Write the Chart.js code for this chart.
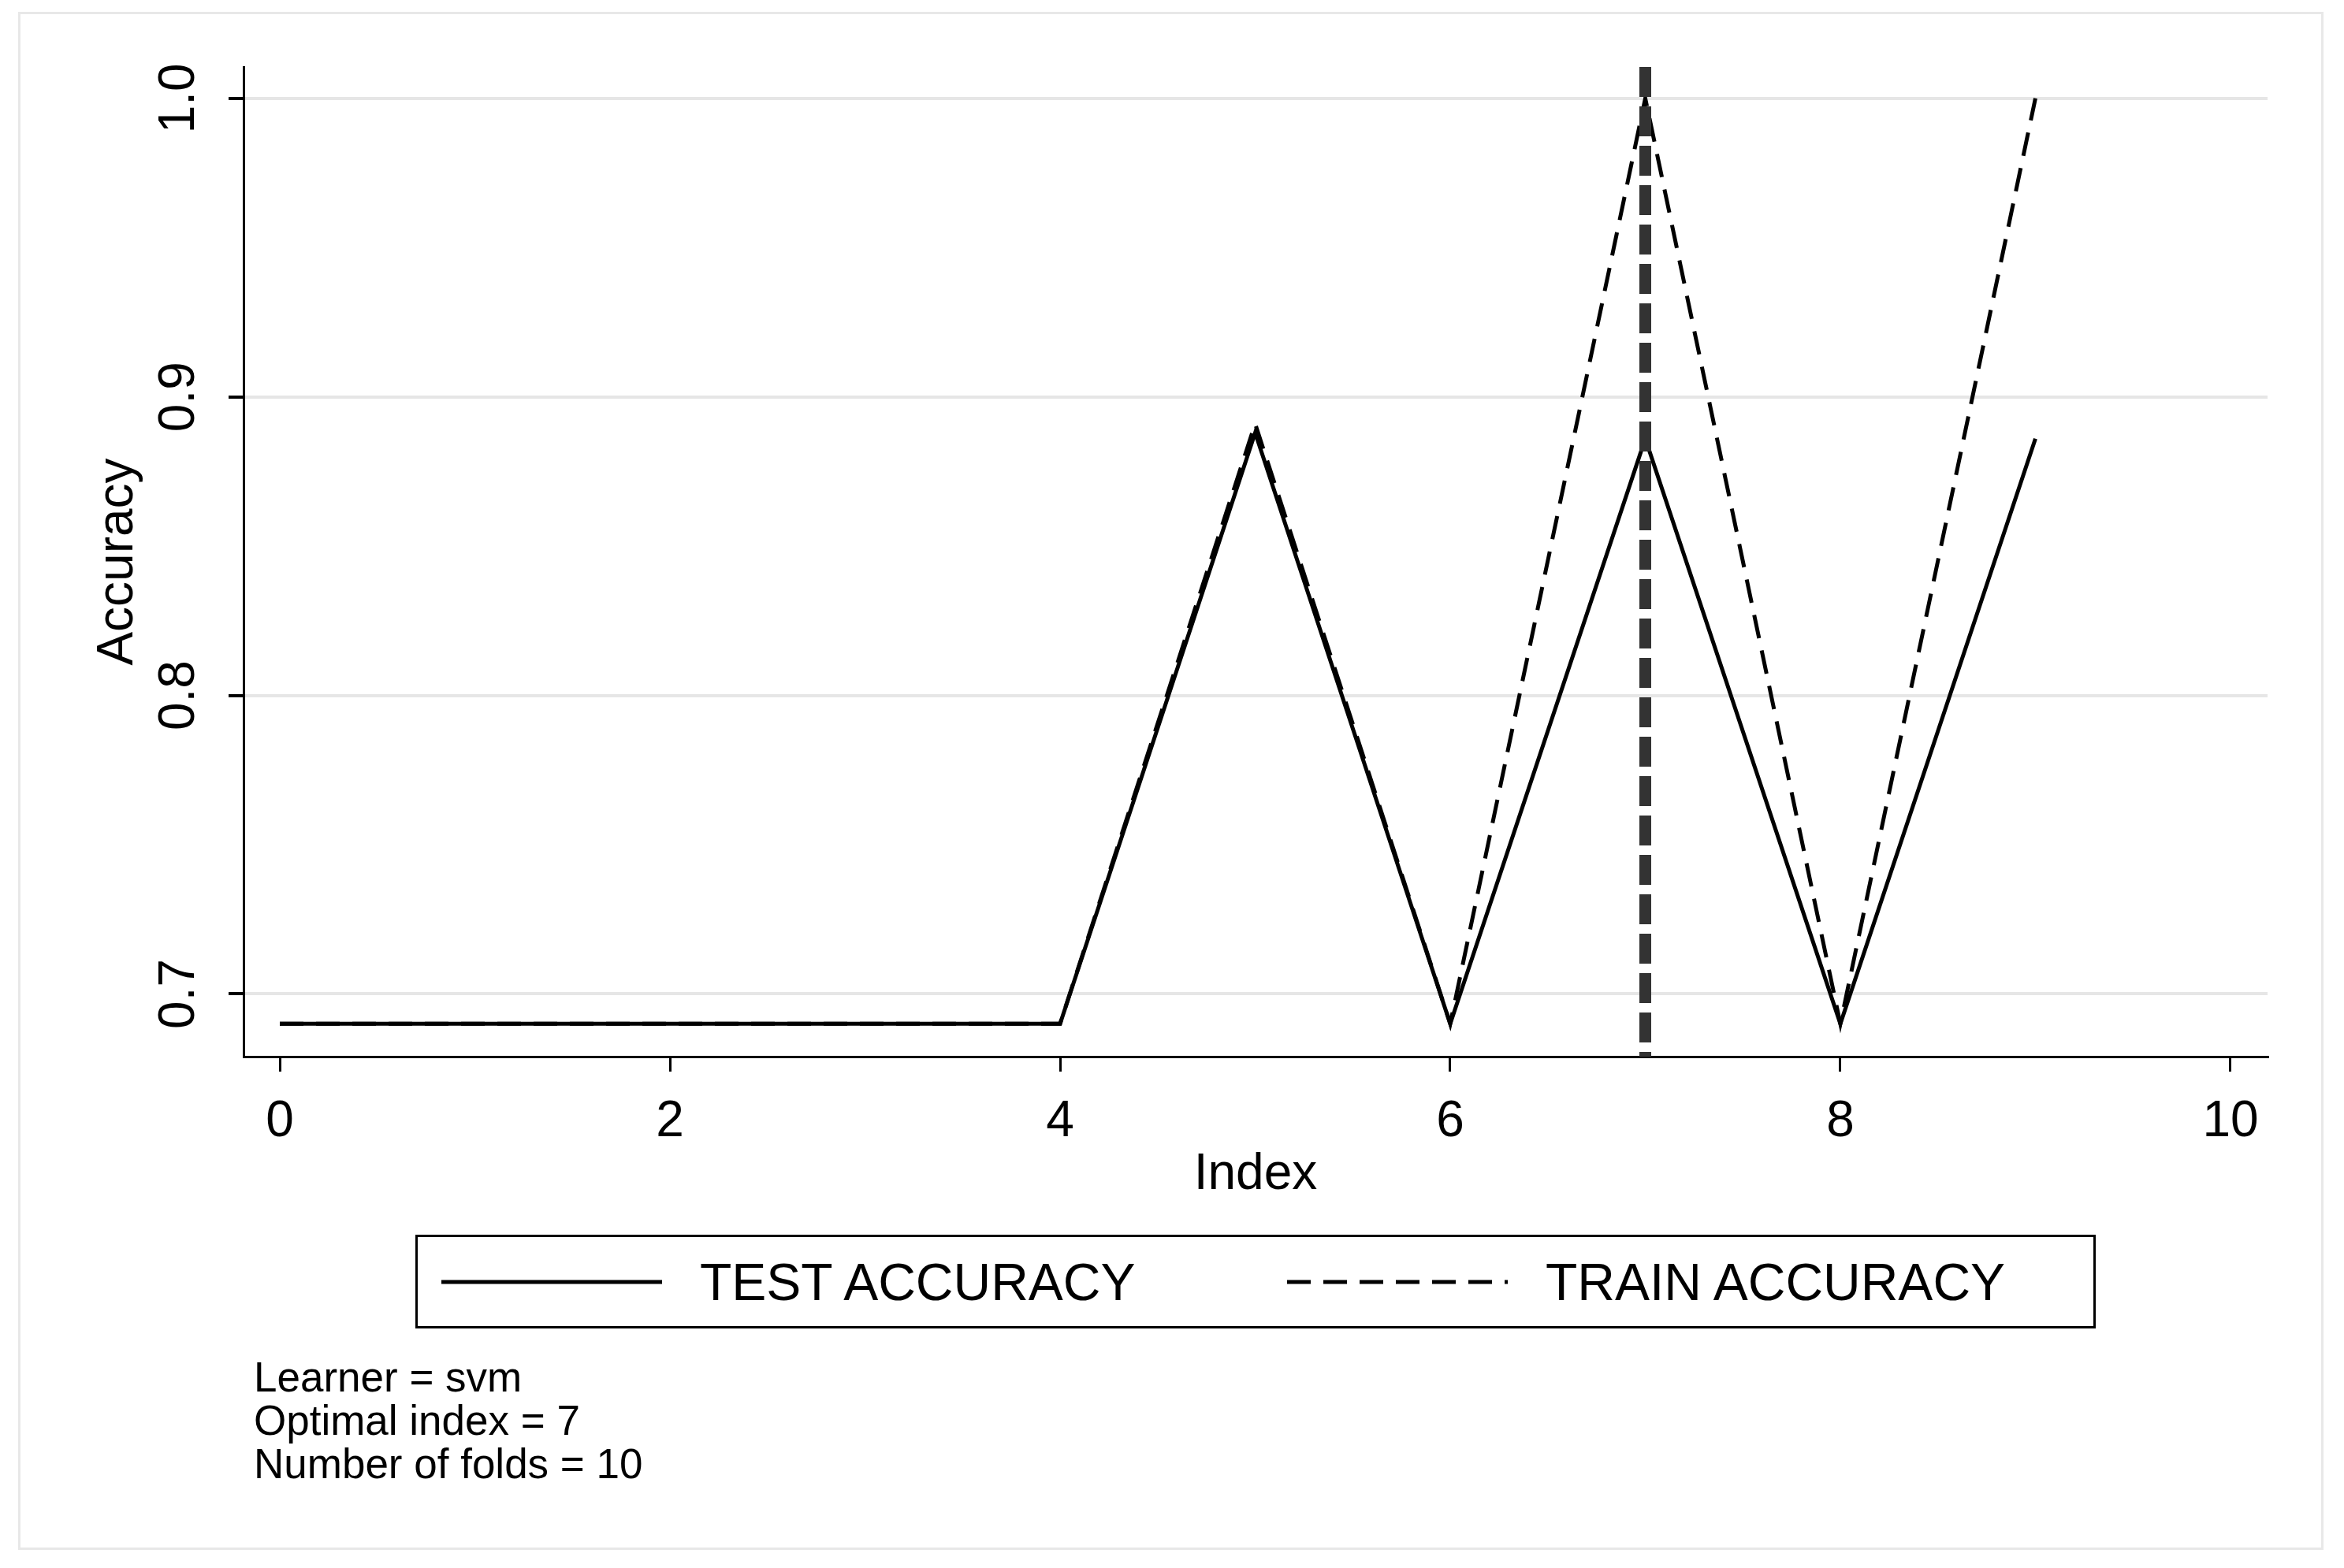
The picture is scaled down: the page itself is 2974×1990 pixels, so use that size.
<!DOCTYPE html>
<html>
<head>
<meta charset="utf-8">
<script src="https://cdn.jsdelivr.net/npm/chart.js@4.4.1/dist/chart.umd.min.js"></script>
<style>
  body { margin: 0; background: #fff; font-family: Arial, "Liberation Sans", sans-serif; }
  #wrap { position: relative; width: 2974px; height: 1990px; }
  #frame { position: absolute; left: 23px; top: 15px; width: 2925px; height: 1952px; border: 3px solid #e8e8e8; box-sizing: border-box; }
  canvas { position: absolute; left: 0; top: 0; }
  #legend { position: absolute; left: 527px; top: 1567px; width: 2132px; height: 119px; border: 3px solid #000; box-sizing: border-box; font-size: 66px; }
  .item { position: absolute; top: 0; height: 113px; display: flex; align-items: center; }
  .item svg { margin-right: 48px; }
  #notes { position: absolute; left: 322px; top: 1720px; font-size: 53px; line-height: 55px; }
</style>
</head>
<body>
<div id="wrap">
  <div id="frame"></div>
  <canvas id="chart" width="2974" height="1990"></canvas>
  <div id="legend">
    <div class="item" style="left:30px">
      <svg width="280" height="10"><line x1="0" y1="5" x2="280" y2="5" stroke="#000" stroke-width="5"/></svg>TEST ACCURACY
    </div>
    <div class="item" style="left:1103px">
      <svg width="280" height="10"><line x1="0" y1="5" x2="280" y2="5" stroke="#000" stroke-width="5" stroke-dasharray="30,16"/></svg>TRAIN ACCURACY
    </div>
  </div>
  <div id="notes">Learner = svm<br>Optimal index = 7<br>Number of folds = 10</div>
</div>
<script>
const index = [0, 1, 2, 3, 4, 5, 6, 7, 8, 9];
const testAccuracy = [0.69, 0.69, 0.69, 0.69, 0.69, 0.888, 0.69, 0.886, 0.69, 0.886];
const trainAccuracy = [0.69, 0.69, 0.69, 0.69, 0.69, 0.891, 0.69, 1.0, 0.69, 1.0];
const xTicks = [0, 2, 4, 6, 8, 10];
const yTicks = [0.7, 0.8, 0.9, 1.0];
const optimalIndex = 7;

const toPoints = (ys) => index.map((x, i) => ({ x: x, y: ys[i] }));
const FONT = '64px Arial, "Liberation Sans"';

const extras = {
  id: 'extras',
  afterDatasetsDraw(chart) {
    const { ctx, scales: { x, y } } = chart;
    ctx.save();
    // optimal index line
    const px = x.getPixelForValue(optimalIndex);
    ctx.strokeStyle = '#333';
    ctx.lineWidth = 15;
    ctx.setLineDash([38, 12]);
    ctx.beginPath();
    ctx.moveTo(px, y.top);
    ctx.lineTo(px, y.bottom);
    ctx.stroke();
    ctx.setLineDash([]);
    // rotated y tick labels
    ctx.fillStyle = '#000';
    ctx.font = FONT;
    ctx.textAlign = 'center';
    ctx.textBaseline = 'middle';
    yTicks.forEach((v) => {
      ctx.save();
      ctx.translate(228, y.getPixelForValue(v));
      ctx.rotate(-Math.PI / 2);
      ctx.fillText(v.toFixed(1), 0, 0);
      ctx.restore();
    });
    ctx.save();
    ctx.translate(150, (y.top + y.bottom) / 2);
    ctx.rotate(-Math.PI / 2);
    ctx.fillText('Accuracy', 0, 0);
    ctx.restore();
    ctx.fillText('Index', (x.left + x.right) / 2, 1491);
    ctx.restore();
  }
};

new Chart(document.getElementById('chart'), {
  type: 'line',
  data: {
    datasets: [
      { label: 'TEST ACCURACY', data: toPoints(testAccuracy), borderColor: '#000', borderWidth: 5, pointRadius: 0, tension: 0 },
      { label: 'TRAIN ACCURACY', data: toPoints(trainAccuracy), borderColor: '#000', borderWidth: 5, borderDash: [30, 16], pointRadius: 0, tension: 0 }
    ]
  },
  options: {
    responsive: false,
    animation: false,
    layout: { padding: { top: 85, right: 97, left: 0, bottom: 0 } },
    plugins: { legend: { display: false }, tooltip: { enabled: false } },
    scales: {
      x: {
        type: 'linear',
        min: -0.186,
        max: 10.19,
        afterBuildTicks: (s) => { s.ticks = xTicks.map((v) => ({ value: v })); },
        afterFit: (s) => { s.height = 649; },
        grid: { drawOnChartArea: false, color: '#000', lineWidth: 3, tickLength: 19 },
        border: { color: '#000', width: 3 },
        ticks: { color: '#000', font: { size: 64, family: 'Arial, "Liberation Sans"' }, padding: 26, maxRotation: 0 }
      },
      y: {
        min: 0.679,
        max: 1.0105,
        afterBuildTicks: (s) => { s.ticks = yTicks.map((v) => ({ value: v })); },
        afterFit: (s) => { s.width = 309; },
        grid: { color: '#e6e6e6', lineWidth: 4, tickColor: '#000', tickLength: 19 },
        border: { color: '#000', width: 3 },
        ticks: { callback: () => '' }
      }
    }
  },
  plugins: [extras]
});
</script>
</body>
</html>
